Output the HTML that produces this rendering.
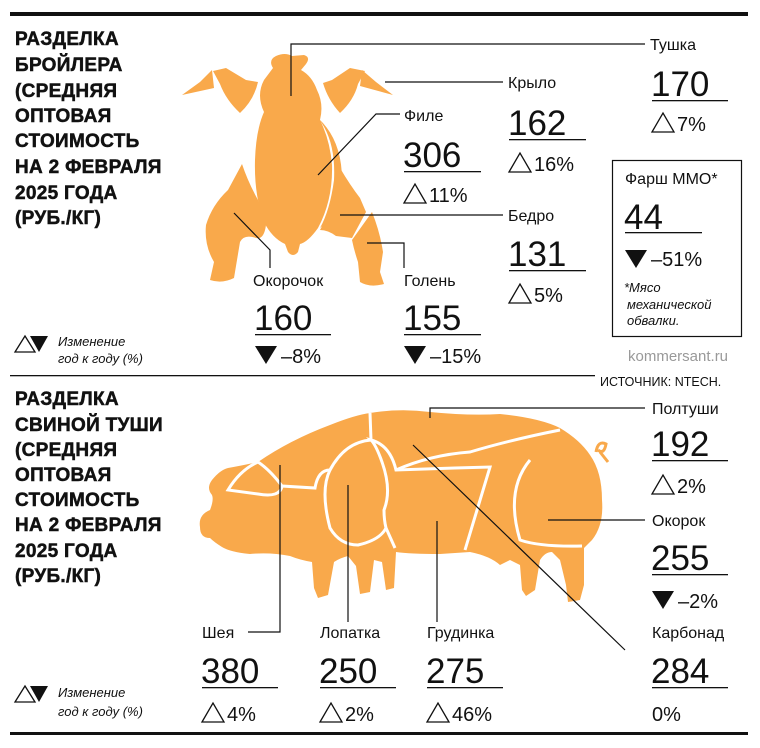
<!DOCTYPE html>
<html><head><meta charset="utf-8"><style>
html,body{margin:0;padding:0;background:#fff;}
svg{display:block;}
text{font-family:"Liberation Sans","DejaVu Sans",sans-serif;fill:#111;}
.t{font-weight:bold;font-size:19px;letter-spacing:0.3px;stroke:#111;stroke-width:0.5;}
.l{font-size:16px;}
.n{font-size:35px;}
.p{font-size:20px;}
.i{font-style:italic;font-size:13px;}
.o{fill:#f9a94b;}
.w{fill:none;stroke:#fff;stroke-width:3;}
.k{fill:none;stroke:#111;stroke-width:1.2;}
</style></head><body>
<svg width="760" height="748" viewBox="0 0 760 748" xmlns="http://www.w3.org/2000/svg">
<rect x="10" y="12" width="738" height="4" fill="#111"/>
<rect x="10" y="375" width="585" height="1.3" fill="#111"/>
<rect x="10" y="732" width="738" height="3" fill="#111"/>

<g class="t">
<text x="15" y="45">РАЗДЕЛКА</text><text x="15" y="71">БРОЙЛЕРА</text><text x="15" y="97">(СРЕДНЯЯ</text><text x="15" y="122">ОПТОВАЯ</text><text x="15" y="147">СТОИМОСТЬ</text><text x="15" y="173">НА 2 ФЕВРАЛЯ</text><text x="15" y="199">2025 ГОДА</text><text x="15" y="224">(РУБ./КГ)</text>
<text x="15" y="405">РАЗДЕЛКА</text><text x="15" y="431">СВИНОЙ ТУШИ</text><text x="15" y="456">(СРЕДНЯЯ</text><text x="15" y="481">ОПТОВАЯ</text><text x="15" y="506">СТОИМОСТЬ</text><text x="15" y="531">НА 2 ФЕВРАЛЯ</text><text x="15" y="557">2025 ГОДА</text><text x="15" y="582">(РУБ./КГ)</text>
</g>

<!-- chicken -->
<g class="o">
<path d="M276 56 Q285 52 292 56 L304 55 Q311 57 306 64 L301 70 Q312 76 317 90 Q324 104 320 120 Q330 140 332 165 Q333 200 318 228 Q308 242 300 244 L298 252 Q293 258 288 252 L285 244 Q272 238 264 222 Q254 195 255 160 Q256 130 264 112 Q256 95 264 80 L273 68 Q268 60 276 56Z"/>
<path d="M318 118 Q336 140 334 180 Q330 210 320 228 Q338 214 342 180 Q342 140 318 118Z"/>
<path d="M213 71 L226 68 L246 80 L258 82 Q254 100 240 113 Q226 100 220 84 Z"/>
<path d="M182 95 L200 82 L212 70 L214 88 Z"/>
<path d="M393 95 L376 82 L362 70 L360 86 Z"/>
<path d="M365 71 L350 68 L332 80 L323 83 Q328 100 340 113 Q354 100 358 84 Z"/>
<path d="M242 164 Q248 182 258 200 L266 225 Q264 240 256 238 Q244 234 240 242 L234 278 Q222 284 210 280 L214 262 Q204 245 206 225 Q212 205 228 190 Z"/>
<path d="M340 168 Q350 185 360 198 L366 212 L352 238 L336 236 Q328 230 320 230 Q334 205 340 168Z"/>
<path d="M372 212 Q380 232 383 252 L380 272 L384 284 Q370 288 360 282 L358 262 Q354 250 352 240 Z"/>
</g>
<g class="k">
<polyline points="291,96 291,44 645,44"/>
<line x1="385" y1="82" x2="503" y2="82"/>
<polyline points="318,175 376,114 400,114"/>
<line x1="340" y1="215" x2="503" y2="215"/>
<polyline points="234,213 270,250 270,268"/>
<polyline points="367,243 404,243 404,268"/>
</g>

<text class="l" x="650" y="50">Тушка</text>
<text class="n" x="651" y="96">170</text><rect x="652" y="100" width="76" height="1.3" fill="#111"/>
<text class="l" x="508" y="88">Крыло</text>
<text class="n" x="508" y="135">162</text><rect x="509" y="139" width="77" height="1.3" fill="#111"/>
<text class="l" x="404" y="121">Филе</text>
<text class="n" x="403" y="167">306</text><rect x="404" y="171" width="77" height="1.3" fill="#111"/>
<text class="l" x="508" y="221">Бедро</text>
<text class="n" x="508" y="266">131</text><rect x="509" y="270" width="77" height="1.3" fill="#111"/>
<text class="l" x="253" y="286">Окорочок</text>
<text class="n" x="254" y="330">160</text><rect x="255" y="334" width="76" height="1.3" fill="#111"/>
<text class="l" x="404" y="286">Голень</text>
<text class="n" x="403" y="330">155</text><rect x="404" y="334" width="77" height="1.3" fill="#111"/>

<g fill="none" stroke="#111" stroke-width="1.3">
<polygon points="652,132 663,113 674,132"/>
<polygon points="509,172 520,153 531,172"/>
<polygon points="404,203 415,184 426,203"/>
<polygon points="509,303 520,284 531,303"/>
<polygon points="652,494 663,475 674,494"/>
<polygon points="202,722 213,703 224,722"/>
<polygon points="320,722 331,703 342,722"/>
<polygon points="427,722 438,703 449,722"/>
<polygon points="15,352 25,336 35,352"/>
<polygon points="15,702 25,686 35,702"/>
</g>
<g fill="#111">
<polygon points="255,346 277,346 266,364"/>
<polygon points="404,346 426,346 415,364"/>
<polygon points="625,250 647,250 636,268"/>
<polygon points="652,591 674,591 663,609"/>
<polygon points="30,336 48,336 39,352"/>
<polygon points="30,686 48,686 39,702"/>
</g>
<g class="p">
<text x="677" y="131">7%</text>
<text x="534" y="171">16%</text>
<text x="429" y="202">11%</text>
<text x="534" y="302">5%</text>
<text x="281" y="363">–8%</text>
<text x="430" y="363">–15%</text>
<text x="651" y="266">–51%</text>
<text x="677" y="493">2%</text>
<text x="678" y="608">–2%</text>
<text x="652" y="721">0%</text>
<text x="227" y="721">4%</text>
<text x="345" y="721">2%</text>
<text x="452" y="721">46%</text>
</g>

<rect x="612.5" y="160.5" width="129" height="176" fill="none" stroke="#111" stroke-width="1.2"/>
<text class="l" x="625" y="184">Фарш ММО*</text>
<text class="n" x="624" y="229">44</text><rect x="625" y="232" width="77" height="1.3" fill="#111"/>
<text class="i" x="624" y="292">*Мясо</text>
<text class="i" x="627" y="309">механической</text>
<text class="i" x="627" y="325">обвалки.</text>
<text x="628" y="361" style="font-size:15px;fill:#999">kommersant.ru</text>
<text x="600" y="386" style="font-size:12.5px">ИСТОЧНИК: NTECH.</text>

<text class="i" x="58" y="346">Изменение</text><text class="i" x="58" y="363">год к году (%)</text>
<text class="i" x="58" y="697">Изменение</text><text class="i" x="58" y="716">год к году (%)</text>

<!-- pig -->
<g class="o">
<path d="M258 462 Q290 440 330 425 Q355 415 370 413 Q400 408 430 412 Q470 416 500 414 Q540 418 560 428 Q580 440 590 455 Q602 472 602 500 Q604 525 592 540 L584 548 L584 585 L580 600 L568 602 L566 585 L560 560 L552 552 Q545 552 540 560 L535 590 L526 596 L522 590 L520 565 L510 560 L500 565 Q490 556 470 552 L440 554 Q410 554 396 552 L394 588 L386 590 L382 562 L374 560 L370 592 L360 594 L356 566 L348 556 Q340 558 334 562 L328 595 L318 598 L314 588 L312 562 Q300 560 290 556 Q270 552 250 554 Q230 552 222 547 Q214 542 210 538 Q200 538 200 527 Q198 515 210 510 Q214 500 212 495 Q206 488 212 480 Q220 470 228 468 Q240 466 258 462Z"/>
</g>
<path d="M596 452 Q598 440 606 444 Q604 455 598 450 M600 452 L608 462" fill="none" stroke="#f9a94b" stroke-width="3"/>
<g class="w" stroke-width="2">
<path d="M370 413 L371 440 Q345 442 330 470 Q318 470 315 488 L282 486 Q270 470 258 462"/>
<path d="M258 462 Q240 470 228 490 L258 494 Q280 498 282 486"/>
<path d="M330 470 Q320 490 330 528 Q340 545 358 545 Q380 540 386 528 Q384 520 384 510 Q392 490 382 462 Q376 445 371 440 Q390 445 396 470 L455 468 L490 467 L465 550"/>
<path d="M396 470 Q430 455 470 452 Q510 440 560 430"/>
<path d="M530 460 Q505 490 520 540 Q540 547 582 546"/>
<path d="M386 528 L395 548"/>
</g>
<g class="k">
<polyline points="430,418 430,408 645,408"/>
<line x1="548" y1="520" x2="645" y2="520"/>
<polyline points="413,445 625,650"/>
<polyline points="248,632 280,632 280,465"/>
<line x1="348" y1="485" x2="348" y2="622"/>
<line x1="437" y1="521" x2="437" y2="622"/>
</g>
<text class="l" x="652" y="414">Полтуши</text>
<text class="n" x="651" y="456">192</text><rect x="652" y="460" width="76" height="1.3" fill="#111"/>
<text class="l" x="652" y="526">Окорок</text>
<text class="n" x="651" y="570">255</text><rect x="652" y="574" width="76" height="1.3" fill="#111"/>
<text class="l" x="652" y="638">Карбонад</text>
<text class="n" x="651" y="683">284</text><rect x="652" y="687" width="76" height="1.3" fill="#111"/>
<text class="l" x="202" y="638">Шея</text>
<text class="n" x="201" y="683">380</text><rect x="202" y="687" width="76" height="1.3" fill="#111"/>
<text class="l" x="320" y="638">Лопатка</text>
<text class="n" x="319" y="683">250</text><rect x="320" y="687" width="76" height="1.3" fill="#111"/>
<text class="l" x="427" y="638">Грудинка</text>
<text class="n" x="426" y="683">275</text><rect x="427" y="687" width="76" height="1.3" fill="#111"/>
</svg>
</body></html>
